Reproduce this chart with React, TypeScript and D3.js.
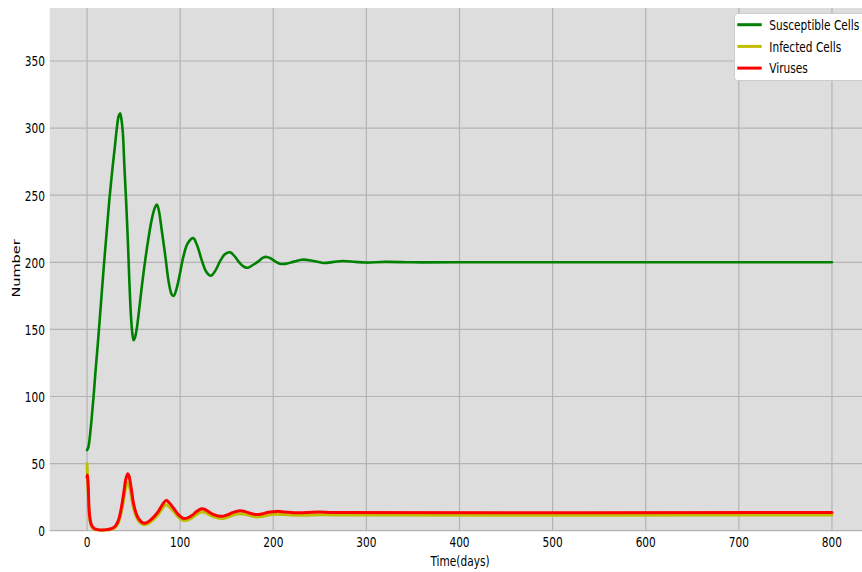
import React from "react";
import * as d3 from "d3";

// ---- data ----
const xTicks = [0, 100, 200, 300, 400, 500, 600, 700, 800];
const yTicks = [0, 50, 100, 150, 200, 250, 300, 350];
const seriesNames = ["Susceptible Cells", "Infected Cells", "Viruses"];

const susceptibleDays = [0, 1.5, 3, 5, 7, 9, 12, 15, 18, 21, 24, 27, 30, 32, 34, 35.5, 37, 38.5, 40, 42, 44, 45.5, 47, 48.5, 50, 51.5, 53.5, 56, 59, 64, 69.5, 73, 75, 77, 80, 84, 88, 91, 93, 96, 99, 103.4, 108, 114, 118, 123, 128, 133, 138, 143, 148, 153.6, 159, 164, 169, 173, 178, 184, 189, 193, 197, 202, 207, 212.7, 222, 232, 243, 254, 265, 275, 288, 300, 320, 350, 400, 800];
const susceptibleVals = [60, 62.5, 70, 84, 100, 118, 143, 170, 197, 222, 247, 268, 287, 300, 309, 311, 306, 296, 273, 245, 213, 185, 162, 148, 142, 144, 151, 165, 183, 209, 232, 241, 243, 239, 225, 205, 184, 176, 175, 180, 189, 204, 214, 218, 213, 202, 193, 190, 194, 201, 206, 207.5, 204, 199.5, 196.5, 196, 198, 200.7, 203.5, 204, 203, 200.7, 199, 198.8, 200.5, 202, 201, 199.5, 200.3, 201, 200.3, 199.8, 200.3, 200, 200, 200];

const infectedDays = [0, 0.3, 1, 1.5, 2, 3, 4, 5, 6, 8, 10, 15, 21, 25, 28.3, 31, 33.6, 36, 38.3, 40, 41.5, 43.3, 45, 46.2, 48, 49.7, 52, 54, 57, 60.5, 64, 67.7, 72, 76.6, 81, 84.9, 88, 92.7, 98, 103.4, 108, 113, 118, 123, 126, 130, 136, 144.6, 150, 157, 164.3, 170, 176, 182.3, 188, 195, 203.7, 212, 222, 235, 250, 265, 800];
const infectedVals = [50, 44, 33, 25, 15, 8, 5, 3, 2, 1, 0.6, 0.3, 0.5, 0.9, 1.6, 3, 6, 11.5, 19, 26, 32, 36, 34.5, 31, 24, 17.5, 12, 8.8, 6, 4.6, 4.8, 6.3, 8.8, 12.2, 16.8, 19.3, 18, 14.4, 10.2, 7.6, 8, 9.7, 12.3, 13.9, 13.8, 12.4, 10.3, 9, 9.8, 11.7, 12.7, 12.2, 11, 10.2, 10.6, 11.7, 12.3, 12, 11.5, 11.5, 11.9, 11.7, 11.7];

const virusDays = [0, 0.4, 1, 1.5, 2.1, 3, 4, 5, 6, 8, 10.4, 15, 21, 25, 28.3, 31, 33.6, 36, 38.3, 40, 41.5, 43.7, 45, 46.2, 48, 49.7, 52, 54, 57, 60.5, 64, 67.7, 72, 76.6, 81, 84.9, 88, 92.7, 98, 103.4, 108, 113, 118, 123, 126, 130, 136, 144.6, 150, 157, 164.3, 170, 176, 182.3, 188, 195, 203.7, 212, 222, 235, 250, 265, 800];
const virusVals = [40, 41.5, 36, 29, 17, 10, 6, 4, 2.8, 1.5, 1, 0.5, 0.8, 1.3, 2.2, 4, 7.5, 14, 23, 31, 38, 42.5, 41, 37, 29, 21, 14.5, 10.7, 7.5, 5.7, 6, 7.7, 10.5, 14.4, 19.5, 22.6, 21, 16.9, 12, 9.2, 9.6, 11.5, 14.5, 16.3, 16, 14.4, 12, 10.7, 11.6, 13.7, 14.8, 14.2, 12.8, 12, 12.5, 13.8, 14.4, 14, 13.4, 13.5, 13.9, 13.6, 13.6];

const colors = ["#008000", "#bfbf00", "#ff0000"];

const W = 862;
const H = 572;
const FS = 14.5;
const SX = 0.73;

export default function App() {
  const x = d3.scaleLinear().domain([-40, 840]).range([49.8, 869.2]);
  const y = d3.scaleLinear().domain([0, 389.5]).range([530.7, 8]);
  const plotL = x(-40), plotR = x(840), plotT = y(389.5), plotB = y(0);

  const series = [
    { days: susceptibleDays, vals: susceptibleVals, width: 2.6 },
    { days: infectedDays, vals: infectedVals, width: 3 },
    { days: virusDays, vals: virusVals, width: 3 },
  ];
  const line = d3
    .line<[number, number]>()
    .x((d) => x(d[0]))
    .y((d) => y(d[1]))
    .curve(d3.curveCatmullRom.alpha(0.5));

  const font = "'DejaVu Sans', sans-serif";

  return (
    <svg
      width={W}
      height={H}
      style={{ position: "absolute", left: 0, top: 0, background: "#fff" }}
    >
      <defs>
        <clipPath id="plotclip">
          <rect x={plotL} y={plotT} width={plotR - plotL} height={plotB - plotT + 2} />
        </clipPath>
      </defs>
      <rect x={plotL} y={plotT} width={plotR - plotL} height={plotB - plotT} fill="#dddddd" />
      {xTicks.map((t) => (
        <line key={"gx" + t} x1={x(t)} x2={x(t)} y1={plotT} y2={plotB} stroke="#b3b3b3" strokeWidth={1.2} />
      ))}
      {yTicks.map((t) => (
        <line key={"gy" + t} x1={plotL} x2={plotR} y1={y(t)} y2={y(t)} stroke="#b3b3b3" strokeWidth={1.2} />
      ))}
      <g clipPath="url(#plotclip)">
        {series.map((s, i) => (
          <path
            key={i}
            d={line(s.days.map((d, j) => [d, s.vals[j]] as [number, number])) || ""}
            fill="none"
            stroke={colors[i]}
            strokeWidth={s.width}
            strokeLinejoin="round"
            strokeLinecap="round"
          />
        ))}
      </g>
      {xTicks.map((t) => (
        <text
          key={"tx" + t}
          transform={`translate(${x(t)},${547}) scale(${SX},1)`}
          textAnchor="middle"
          fontFamily={font}
          fontSize={FS}
          fill="#000"
        >
          {t}
        </text>
      ))}
      {yTicks.map((t) => (
        <text
          key={"ty" + t}
          transform={`translate(${45},${y(t) + 5.3}) scale(${SX},1)`}
          textAnchor="end"
          fontFamily={font}
          fontSize={FS}
          fill="#000"
        >
          {t}
        </text>
      ))}
      <text
        transform={`translate(${460},${566}) scale(${SX},1)`}
        textAnchor="middle"
        fontFamily={font}
        fontSize={FS}
      >
        Time(days)
      </text>
      <text
        transform={`translate(${20},${268.5}) rotate(-90) scale(1,${SX})`}
        textAnchor="middle"
        fontFamily={font}
        fontSize={FS}
      >
        Number
      </text>
      <g>
        <rect x={734.5} y={13.5} width={140} height={67} rx={3} fill="#fff" stroke="#cccccc" strokeWidth={1} />
        {seriesNames.map((n, i) => (
          <g key={n}>
            <line x1={737.3} x2={761.7} y1={24.7 + i * 21.7} y2={24.7 + i * 21.7} stroke={colors[i]} strokeWidth={3} />
            <text
              transform={`translate(${769.3},${24.7 + i * 21.7 + 5.2}) scale(${SX},1)`}
              fontFamily={font}
              fontSize={FS}
            >
              {n}
            </text>
          </g>
        ))}
      </g>
    </svg>
  );
}
